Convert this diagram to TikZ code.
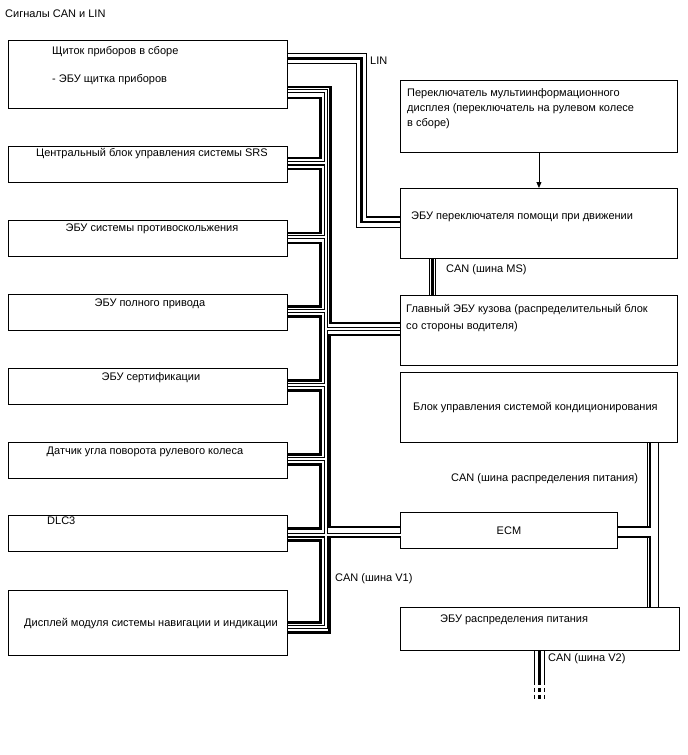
\documentclass[tikz,border=0pt]{standalone}
\usepackage{fontspec}
\setmainfont{Liberation Sans}
\usetikzlibrary{arrows.meta,positioning}
\tikzset{
  blok/.style={rectangle, draw=black, line width=0.9pt, inner sep=0pt, minimum width=#1},
  blok/.default=279pt,
  lbl/.style={inner sep=0pt, font=\fontsize{11}{15}\selectfont, align=left},
  canh/.style={line width=2.6pt, line join=miter},
  hollow/.style={line width=#1, draw=white, line join=miter,
                 preaction={draw=black, line width=#1+2.2pt}},
  stub/.style={line width=1.1pt, dash pattern=on 4pt off 3pt},
  arr/.style={-{Triangle[length=6pt,width=5pt]}, line width=0.8pt},
}

\begin{document}
\begin{tikzpicture}[x=1pt, y=-1pt]
  \useasboundingbox (0,0) rectangle (688,755);
  % left column
  \node[blok, minimum height=68pt, anchor=north west] (b1) at (8,40) {};
  \node[blok, minimum height=36pt, below=37pt of b1] (b2) {};
  \node[blok, minimum height=36pt, below=37pt of b2] (b3) {};
  \node[blok, minimum height=36pt, below=37pt of b3] (b4) {};
  \node[blok, minimum height=36pt, below=37pt of b4] (b5) {};
  \node[blok, minimum height=36pt, below=37pt of b5] (b6) {};
  \node[blok, minimum height=36pt, below=37pt of b6] (b7) {};
  \node[blok, minimum height=65pt, below=38pt of b7] (b8) {};
  % right column
  \node[blok=277pt, minimum height=72pt, anchor=north west] (r1) at (400,80) {};
  \node[blok=277pt, minimum height=70pt, anchor=north west] (r2) at (400,188) {};
  \node[blok=277pt, minimum height=70pt, anchor=north west] (r3) at (400,295) {};
  \node[blok=277pt, minimum height=70pt, anchor=north west] (r4) at (400,372) {};
  \node[blok=217pt, minimum height=36pt, anchor=north west] (ecm) at (400,512) {};
  \node[blok, minimum height=43pt, anchor=north west] (r6) at (400,607) {};

  % texts
  \node[lbl, anchor=base west] (ttl) at (5,17) {Сигналы CAN и LIN};
  \node[lbl, anchor=base west] (t1a) at (52,54) {Щиток приборов в сборе};
  \node[lbl, anchor=base west] (t1b) at (52,82) {- ЭБУ щитка приборов};
  \node[lbl, anchor=base] (t2) at ([xshift=4,yshift=-11]b2.north) {Центральный блок управления системы SRS};
  \node[lbl, anchor=base] (t3) at ([xshift=4,yshift=-12]b3.north) {ЭБУ системы противоскольжения};
  \node[lbl, anchor=base] (t4) at ([xshift=2,yshift=-13]b4.north) {ЭБУ полного привода};
  \node[lbl, anchor=base] (t5) at ([xshift=3,yshift=-13]b5.north) {ЭБУ сертификации};
  \node[lbl, anchor=base] (t6) at ([xshift=-3,yshift=-13]b6.north) {Датчик угла поворота рулевого колеса};
  \node[lbl, anchor=base west] (t7) at (47,524) {DLC3};
  \node[lbl, anchor=base] (t8) at ([xshift=3,yshift=-36]b8.north) {Дисплей модуля системы навигации и индикации};
  \node[lbl, anchor=north west] (tr1) at (407,88) {Переключатель мультиинформационного\\дисплея (переключатель на рулевом колесе\\в сборе)};
  \node[lbl, anchor=base west] (tr2) at (411,219) {ЭБУ переключателя помощи при движении};
  \node[lbl, anchor=north west] (tr3) at (406,304) {Главный ЭБУ кузова (распределительный блок\\[2pt]со стороны водителя)};
  \node[lbl, anchor=base west] (tr4) at (413,410) {Блок управления системой кондиционирования};
  \node[lbl, anchor=base] (tecm) at ([yshift=-22]ecm.north) {ECM};
  \node[lbl, anchor=base west] (tr6) at (440,622) {ЭБУ распределения питания};
  \node[lbl, anchor=base west] (lin) at (370,64) {LIN};
  \node[lbl, anchor=base west] (ms) at (446,272) {CAN (шина MS)};
  \node[lbl, anchor=base west] (pwr) at (451,481) {CAN (шина распределения питания)};
  \node[lbl, anchor=base west] (v1) at (335,581) {CAN (шина V1)};
  \node[lbl, anchor=base west] (v2) at (548,661) {CAN (шина V2)};

  % V1 bus, low wire (ring)
  \draw[hollow=2pt] ([yshift=-51]b1.north east) -- ++(38,0) |- ([yshift=-37]b8.north east)
    \foreach \b in {b2,b3,b4,b5,b6} {([yshift=-17.5]\b.north east) -- ++(38,0)}
    ([yshift=-20]b7.north east) -- ++(113,0)
    ([yshift=-34]r3.north west) -- ++(-75,0);
  % V1 bus, high wire
  \draw[canh] ([yshift=-58]b1.north east) -- ++(32.5,0) |- ([yshift=-12]b2.north east);
  \foreach \a/\b in {b2/b3,b3/b4,b4/b5,b5/b6,b6/b7}
    \draw[canh] ([yshift=-23]\a.north east) -- ++(32.5,0) |- ([yshift=-13]\b.north east);
  \draw[canh] ([yshift=-25]b7.north east) -- ++(32.5,0) |- ([yshift=-32]b8.north east);
  \draw[canh] ([yshift=-47]b1.north east) -- ++(42.5,0) |- ([yshift=-28]r3.north west);
  \draw[canh] ([yshift=-40]r3.north west) -- ++(-70.5,0) |- ([yshift=-15]ecm.north west);
  \draw[canh] ([yshift=-25]ecm.north west) -- ++(-70.5,0) |- ([yshift=-42]b8.north east);

  % LIN
  \draw[hollow=9pt] ([yshift=-18.5]b1.north east) -- ++(73.5,0) |- ([yshift=-34]r2.north west);
  \draw[canh] ([yshift=-18.5]b1.north east) -- ++(73.5,0) |- ([yshift=-34]r2.north west);
  % MS
  \draw[hollow=5.5pt] ([xshift=32.5]r2.south west) -- ([xshift=32.5]r3.north west);
  \draw[canh] ([xshift=32.5]r2.south west) -- ([xshift=32.5]r3.north west);
  % power distribution bus
  \draw[hollow=9.5pt] ([xshift=-25]r4.south east) -- ([xshift=-27]r6.north east)
    ([yshift=-20]ecm.north east) -- ++(35,0);
  \draw[canh] ([xshift=-28]r4.south east) |- ([yshift=-15]ecm.north east);
  \draw[canh] ([yshift=-25]ecm.north east) -| ([xshift=-30]r6.north east);
  % V2
  \draw[hollow=9pt] ([xshift=139.5]r6.south west) -- ++(0,30) coordinate (v2a);
  \draw[canh] ([xshift=139.5]r6.south west) -- (v2a);
  \draw[stub] ([xshift=-5.1]v2a) -- ++(0,18);
  \draw[stub] ([xshift=5.1]v2a) -- ++(0,18);
  \draw[canh, dash pattern=on 4pt off 3pt] (v2a) -- ++(0,18);

  \draw[arr] (r1) -- (r2);
\end{tikzpicture}
\end{document}
